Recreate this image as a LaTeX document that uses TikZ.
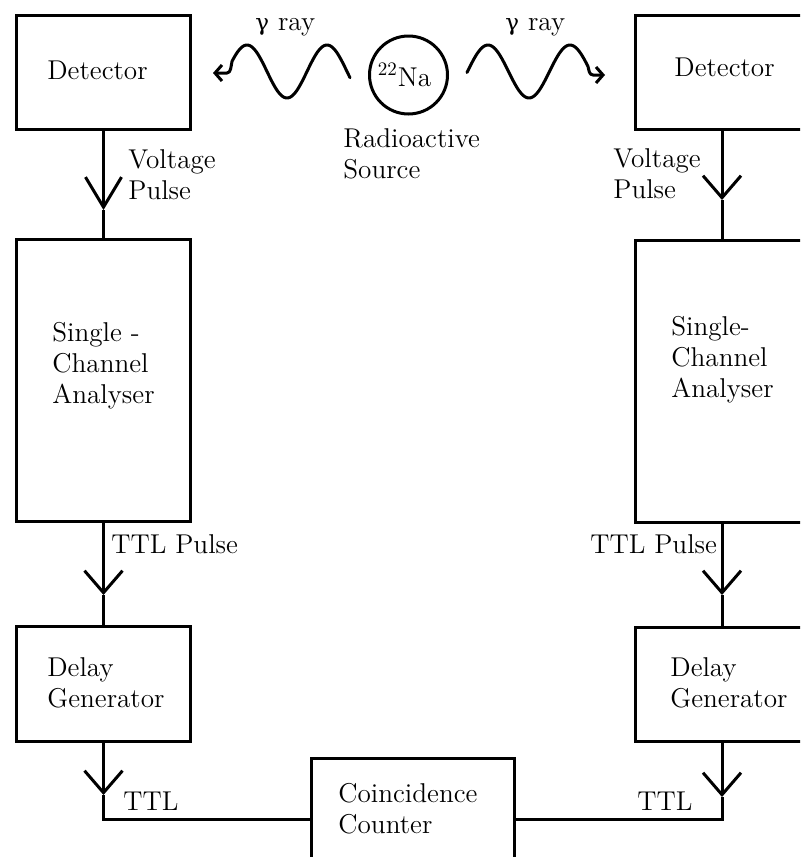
\documentclass[tikz,border=0pt]{standalone}
\usepackage{fontspec}
\newfontfamily\gk{DejaVu Serif}
\usetikzlibrary{arrows.meta}
\begin{document}
\begin{tikzpicture}[x=0.5pt,y=-0.5pt,
  every node/.style={font=\rmfamily\fontsize{13.6}{15.5}\selectfont},
  blk/.style={draw, line width=1.5pt, rectangle, inner sep=0pt},
  lbl/.style={anchor=base west, inner sep=0pt, align=left},
  wire/.style={line width=1.5pt},
  vee/.style={wire, -{Straight Barb[length=11pt,width=19pt]}},
  wavy/.style={line width=1.5pt, line cap=round, line join=round, {Straight Barb[length=3.5pt,width=8pt]}-},
  gam/.style={},
]
\useasboundingbox (0,0) rectangle (800,857);
\clip (0,0) rectangle (800,857);

% boxes
\node[blk, minimum width=87pt, minimum height=57pt] (detL) at (103.5,72.5) {};
\node[blk, minimum width=87pt, minimum height=57pt] (detR) at (722,72.5) {};
\node[blk, minimum width=87pt, minimum height=141pt] (scaL) at (103.5,380.5) {};
\node[blk, minimum width=87pt, minimum height=141pt] (scaR) at (722,381.5) {};
\node[blk, minimum width=87pt, minimum height=57.5pt] (delL) at (103.5,684) {};
\node[blk, minimum width=87pt, minimum height=57pt] (delR) at (722,684.5) {};
\node[blk, minimum width=101.5pt, minimum height=60.5pt] (coin) at (413,819) {};

% source
\node[draw, circle, line width=1.5pt, minimum size=39pt, inner sep=0pt] (src) at (408.5,75) {\hspace*{-4pt}\textsuperscript{22}Na};

% labels (base anchor = baseline of the last line)
\node[lbl] (tdetL) at (47,79) {Detector};
\node[lbl] (tdetR) at (674,76) {Detector};
\node[lbl] (tgL) at (255,30) {{\gk\fontsize{11.5}{15}\selectfont γ} ray};
\node[lbl] (tgR) at (505,30) {{\gk\fontsize{11.5}{15}\selectfont γ} ray};
\node[lbl] (tsrc) at (343,178) {Radioactive\\Source};
\node[lbl] (tvL) at (128,199) {Voltage\\Pulse};
\node[lbl] (tvR) at (613,198) {Voltage\\Pulse};
\node[lbl] (tscaL) at (52,403) {Single -\\Channel\\Analyser};
\node[lbl] (tscaR) at (671,397) {Single-\\Channel\\Analyser};
\node[lbl] (tpL) at (111,553) {TTL Pulse};
\node[lbl] (tpR) at (590,553) {TTL Pulse};
\node[lbl] (tdelL) at (47,707) {Delay\\Generator};
\node[lbl] (tdelR) at (670,707) {Delay\\Generator};
\node[lbl] (tttlL) at (123,810) {TTL};
\node[lbl] (tttlR) at (637,810) {TTL};
\node[lbl] (tcoin) at (338,833) {Coincidence\\Counter};

% arrow tips on the wires
\coordinate (t1) at (103.5,210);
\coordinate (t2) at (722,200);
\coordinate (t3) at (103.5,595);
\coordinate (t4) at (722,595);
\coordinate (t5) at (103.5,795);
\coordinate (t6) at (722,797);

\draw[wire, -{Straight Barb[length=15pt,width=18pt]}] (detL.south) -- (t1);
\draw[wire] (t1) -- (scaL.north);
\draw[vee] (detR.south) -- (t2);
\draw[wire] (t2) -- (scaR.north);
\draw[vee] (scaL.south) -- (t3);
\draw[wire] (t3) -- (delL.north);
\draw[vee] (scaR.south) -- (t4);
\draw[wire] (t4) -- (delR.north);
\draw[vee] (delL.south) -- (t5);
\draw[wire] (t5) |- (coin.west);
\draw[vee] (delR.south) -- (t6);
\draw[wire] (t6) |- (coin.east);

% gamma rays
\coordinate (gL) at (213,73);
\coordinate (gR) at (605,75);
\draw[wavy] (gL) -- (227,73) .. controls (231,73) and (231,66) .. (232,61.4)
  -- plot[domain=232:350, samples=80] (\x, {71.5-26.5*cos(4.5*(\x-327))});
\draw[wavy] (gR) -- (593,75) .. controls (589,75) and (589,70) .. (588,66.5)
  -- plot[domain=588:467, samples=80] (\x, {71.5-26.5*cos(360/82*(\x-488))});
\end{tikzpicture}
\end{document}
